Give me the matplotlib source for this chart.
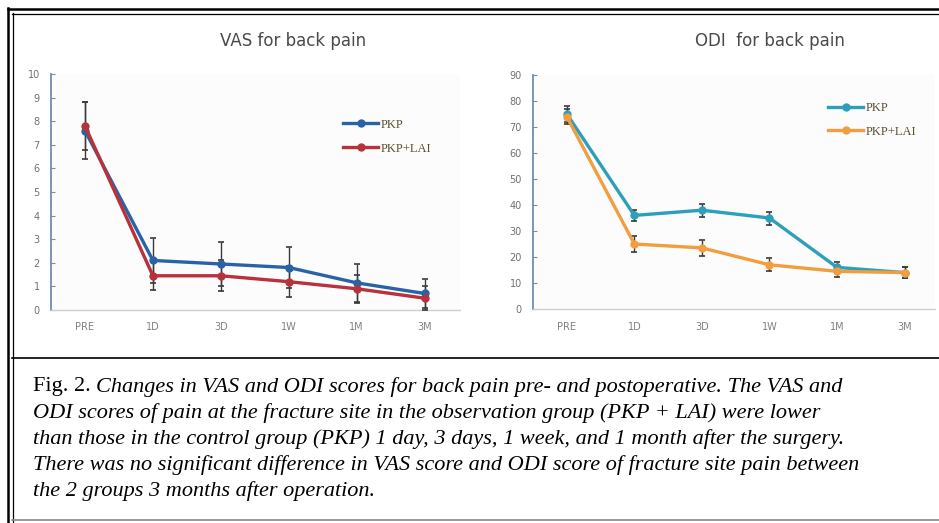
import matplotlib
matplotlib.use("Agg")
import matplotlib.pyplot as plt
from matplotlib.lines import Line2D

# data
cats = ["PRE", "1D", "3D", "1W", "1M", "3M"]

vas_pkp = [7.6, 2.1, 1.95, 1.8, 1.15, 0.7]
vas_pkp_err = [1.2, 0.95, 0.95, 0.85, 0.8, 0.6]
vas_lai = [7.8, 1.45, 1.45, 1.2, 0.9, 0.5]
vas_lai_err = [1.0, 0.6, 0.65, 0.65, 0.6, 0.5]

odi_pkp = [75, 36, 38, 35, 16, 14]
odi_pkp_err = [3, 2, 2.5, 2.5, 2, 2]
odi_lai = [74, 25, 23.5, 17, 14.5, 14]
odi_lai_err = [3, 3, 3, 2.5, 2, 2]

caption = [
    "Changes in VAS and ODI scores for back pain pre- and postoperative. The VAS and",
    "ODI scores of pain at the fracture site in the observation group (PKP + LAI) were lower",
    "than those in the control group (PKP) 1 day, 3 days, 1 week, and 1 month after the surgery.",
    "There was no significant difference in VAS score and ODI score of fracture site pain between",
    "the 2 groups 3 months after operation.",
]

W, H = 939, 523
fig = plt.figure(figsize=(W / 100, H / 100), dpi=100)
fig.patch.set_facecolor("white")


def px(x, y):
    return x / W, 1 - y / H


def style_axes(ax, ymax, ystep):
    ax.set_ylim(0, ymax)
    ax.set_yticks(range(0, ymax + 1, ystep))
    ax.set_xticks(range(len(cats)))
    ax.set_xticklabels(cats)
    for s in ["top", "right"]:
        ax.spines[s].set_visible(False)
    ax.spines["left"].set_color("#6f8fae")
    ax.spines["left"].set_linewidth(1.3)
    ax.spines["bottom"].set_color("#cfcfcf")
    ax.spines["bottom"].set_linewidth(1.0)
    ax.tick_params(axis="y", direction="in", length=3, color="#6f8fae",
                   labelsize=7, labelcolor="#707070", pad=8)
    ax.tick_params(axis="x", length=0, labelsize=7, labelcolor="#808080", pad=9)
    ax.set_facecolor("#fcfcfc")


def series(ax, y, err, color, label):
    ax.errorbar(range(len(cats)), y, yerr=err, color=color, lw=2.4,
                marker="o", ms=5, ecolor="#3a3a3a", elinewidth=1.0,
                capsize=2.5, capthick=1.2, zorder=3)
    return Line2D([], [], color=color, lw=2.4, marker="o", ms=5, label=label)


def legend(ax, handles, anchor):
    ax.legend(handles=handles, loc="upper left", bbox_to_anchor=anchor,
              frameon=False, handlelength=2.8, handletextpad=0.15,
              labelspacing=0.95, borderaxespad=0, borderpad=0,
              prop={"family": "Liberation Serif", "size": 9},
              labelcolor="#5a5030")


# left panel: VAS
ax1 = fig.add_axes([51 / W, 1 - 310 / H, 409 / W, 236 / H])
h1 = series(ax1, vas_pkp, vas_pkp_err, "#2a62a8", "PKP")
h2 = series(ax1, vas_lai, vas_lai_err, "#b8323c", "PKP+LAI")
ax1.set_xlim(-0.5, 5.52)
style_axes(ax1, 10, 1)
legend(ax1, [h1, h2], (0.715, 0.81))

# right panel: ODI
ax2 = fig.add_axes([533 / W, 1 - 309 / H, 402 / W, 234 / H])
h3 = series(ax2, odi_pkp, odi_pkp_err, "#2c9fba", "PKP")
h4 = series(ax2, odi_lai, odi_lai_err, "#f29d3f", "PKP+LAI")
ax2.set_xlim(-0.5, 5.45)
style_axes(ax2, 90, 10)
legend(ax2, [h3, h4], (0.735, 0.885))

fig.text(*px(293, 41), "VAS for back pain", ha="center", va="center",
         fontsize=12, color="#4a4a4a")
fig.text(*px(770, 41), "ODI  for back pain", ha="center", va="center",
         fontsize=12, color="#4a4a4a")


# frame lines
def hline(y, x0, x1, lw, color="black"):
    fig.add_artist(Line2D([x0 / W, x1 / W], [1 - y / H, 1 - y / H], lw=lw, color=color))


def vline(x, y0, y1, lw, color="black"):
    fig.add_artist(Line2D([x / W, x / W], [1 - y0 / H, 1 - y1 / H], lw=lw, color=color))


hline(9, 8, W, 1.8)
hline(13.5, 12, W, 0.9)
vline(8, 8, H, 1.8)
vline(12.5, 13, H, 0.9)
hline(357.5, 12, W, 1.2)
hline(520, 12, W, 1.2, "#888888")

# caption
cap_font = {"family": "Liberation Serif", "size": 16}
y0 = 387
fig.canvas.draw()
r = fig.canvas.get_renderer()
t = fig.text(*px(33, y0), "Fig. 2. ", ha="left", va="center", **cap_font)
wfig = t.get_window_extent(renderer=r).width
fig.text((33 + wfig) / W, 1 - y0 / H, caption[0], ha="left", va="center",
         style="italic", **cap_font)
for i, line in enumerate(caption[1:], start=1):
    fig.text(*px(33, y0 + 26 * i), line, ha="left", va="center",
             style="italic", **cap_font)

fig.savefig("out.png", dpi=100, facecolor="white")
